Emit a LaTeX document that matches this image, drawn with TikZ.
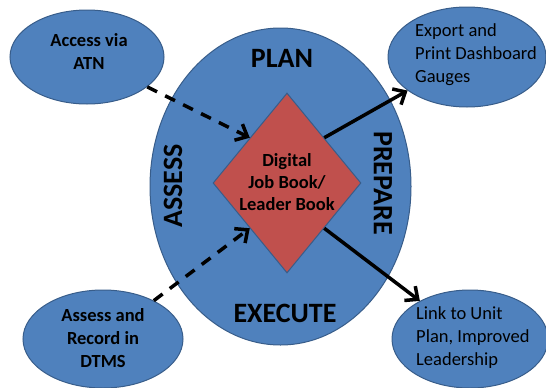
\documentclass[tikz,border=0pt]{standalone}
\usepackage{fontspec}
\setmainfont{Carlito}
\usetikzlibrary{shapes.geometric,arrows.meta}
\definecolor{cycleblue}{RGB}{79,129,189}
\definecolor{edgeblue}{RGB}{56,93,138}
\definecolor{bookred}{RGB}{192,80,77}

\tikzset{
    bubble/.style={ellipse, draw=edgeblue, line width=1pt, fill=cycleblue, inner sep=0pt},
    bookbox/.style={diamond, draw=edgeblue, line width=1pt, fill=bookred, inner sep=0pt,
        minimum width=148pt, minimum height=180pt},
    phase/.style={font=\fontsize{28}{34}\selectfont\bfseries},
    boldtext/.style={font=\fontsize{18.5}{23}\selectfont\bfseries, align=center, inner sep=0pt},
    plaintext/.style={font=\fontsize{18.5}{23}\selectfont, align=left, inner sep=0pt, anchor=west},
    feed/.style={line width=3.5pt, dash pattern=on 11pt off 9pt,
        -{Straight Barb[length=10pt,width=18pt]}},
    result/.style={line width=3.5pt, -{Straight Barb[length=10pt,width=18pt]}}
}

\begin{document}
\begin{tikzpicture}[x=1pt, y=-1pt]
    \useasboundingbox (0,0) rectangle (546,388);
    % Cycle
    \node[bubble, minimum width=261pt, minimum height=317pt] (cycle) at (280.5,186.5) {};
    \node[phase] (plan) at (282,58) {PLAN};
    \node[phase] (execute) at (285,313) {EXECUTE};
    \node[phase, rotate=90] (assess) at (173,186) {ASSESS};
    \node[phase, rotate=-90] (prepare) at (383,183) {PREPARE};
    % Job book
    \node[bookbox] (book) at (287,183) {};
    \node[boldtext, font=\fontsize{18.5}{22}\selectfont\bfseries] (booktext) at (287,182)
        {Digital\\Job Book/\\Leader Book};
    % Outer bubbles
    \node[bubble, minimum width=154pt, minimum height=94pt] (atn) at (87,57) {};
    \node[boldtext] (atntext) at (89,51.5) {Access via\\ATN};
    \node[bubble, minimum width=160pt, minimum height=98pt] (dtms) at (103,339) {};
    \node[boldtext] (dtmstext) at (103,338.5) {Assess and\\Record in\\DTMS};
    \node[bubble, minimum width=158pt, minimum height=100pt] (export) at (467,57) {};
    \node[plaintext] (exporttext) at (415,55) {Export and\\Print Dashboard\\Gauges};
    \node[bubble, minimum width=156pt, minimum height=98pt] (link) at (470,339) {};
    \node[plaintext] (linktext) at (416,337.5) {Link to Unit\\Plan, Improved\\Leadership};
    % Arrows
    \draw[feed] (atn) -- (book.north west);
    \draw[feed] (dtms) -- (book.south west);
    \draw[result] (book.north east) -- (export);
    \draw[result] (book.south east) -- (link);
\end{tikzpicture}
\end{document}
